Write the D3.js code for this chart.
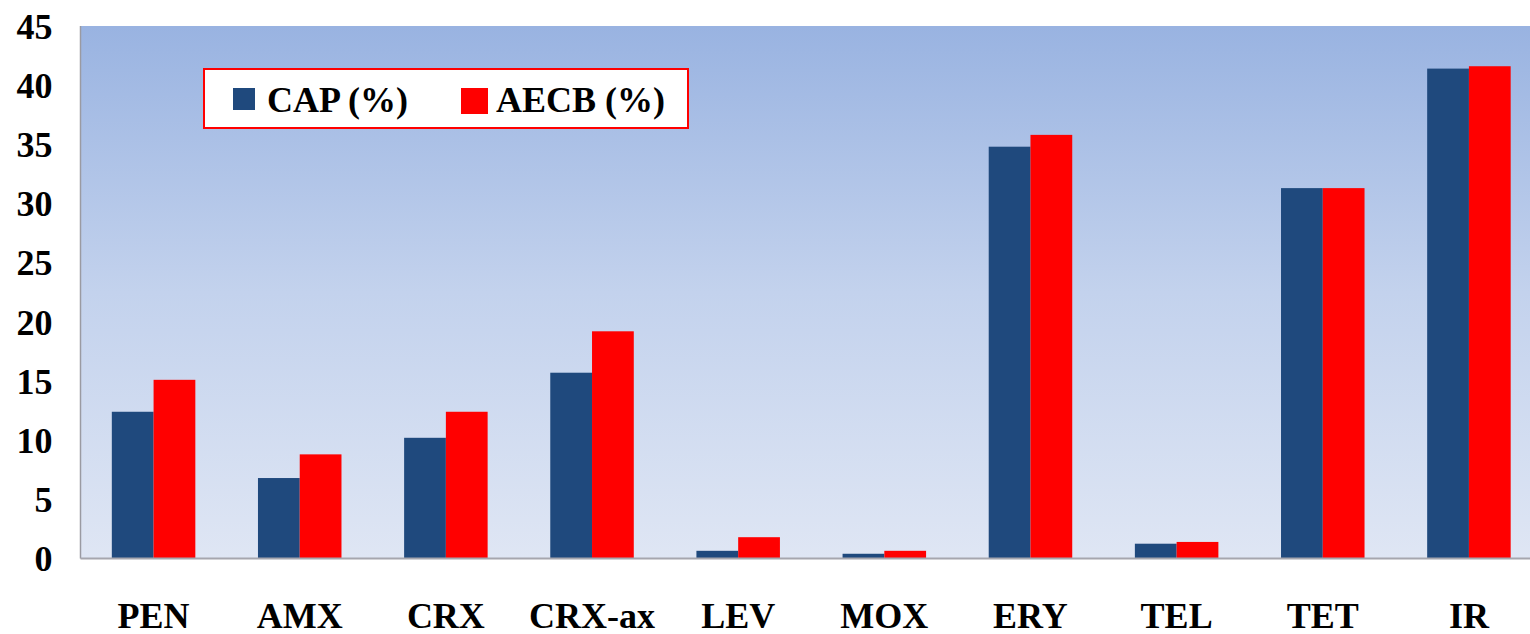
<!DOCTYPE html>
<html>
<head>
<meta charset="utf-8">
<script src="https://cdn.jsdelivr.net/npm/d3@7/dist/d3.min.js"></script>
<style>
  html, body { margin: 0; padding: 0; background: #ffffff; overflow: hidden; }
  svg { display: block; }
  text { font-family: "Liberation Serif", "Times New Roman", serif; font-weight: bold; fill: #000; }
</style>
</head>
<body>
<svg id="chart" width="1530" height="634"></svg>
<script>
// Resistance rates per antibiotic, for CAP and AECB isolates
const categories = ["PEN", "AMX", "CRX", "CRX-ax", "LEV", "MOX", "ERY", "TEL", "TET", "IR"];
const capValues  = [12.4, 6.8, 10.2, 15.7, 0.65, 0.4, 34.8, 1.25, 31.3, 41.4];
const aecbValues = [15.1, 8.8, 12.4, 19.2, 1.8, 0.65, 35.8, 1.4, 31.3, 41.6];
const seriesNames = ["CAP (%)", "AECB (%)"];
const seriesColors = ["#1f497d", "#ff0000"];
const yTicks = [0, 5, 10, 15, 20, 25, 30, 35, 40, 45];

const svg = d3.select("#chart");
const plot = { left: 80.5, right: 1542, top: 26, bottom: 558.5 };
const fontSize = "36px";

// Plot-area background: soft vertical blue gradient
const defs = svg.append("defs");
const grad = defs.append("linearGradient")
  .attr("id", "bg").attr("x1", 0).attr("y1", 0).attr("x2", 0).attr("y2", 1);
grad.append("stop").attr("offset", "0%").attr("stop-color", "#99b3e1");
grad.append("stop").attr("offset", "50%").attr("stop-color", "#c3d2ed");
grad.append("stop").attr("offset", "100%").attr("stop-color", "#dfe6f4");

svg.append("rect")
  .attr("x", plot.left).attr("y", plot.top)
  .attr("width", plot.right - plot.left).attr("height", plot.bottom - plot.top)
  .attr("fill", "url(#bg)");

const x = d3.scaleBand()
  .domain(categories)
  .range([plot.left, plot.right])
  .paddingInner(0.4286)
  .paddingOuter(0.2143);

const xSub = d3.scaleBand()
  .domain(seriesNames)
  .range([0, x.bandwidth()]);

const y = d3.scaleLinear()
  .domain([0, 45])
  .range([plot.bottom, plot.top]);

const rows = categories.map((c, i) => ({ cat: c, values: [capValues[i], aecbValues[i]] }));

// Grouped bars
const groups = svg.append("g").selectAll("g")
  .data(rows).join("g")
  .attr("transform", d => `translate(${x(d.cat)},0)`);

groups.selectAll("rect")
  .data(d => d.values.map((v, j) => ({ name: seriesNames[j], v, j })))
  .join("rect")
  .attr("x", d => xSub(d.name))
  .attr("width", xSub.bandwidth())
  .attr("y", d => y(d.v))
  .attr("height", d => y(0) - y(d.v))
  .attr("fill", d => seriesColors[d.j]);

// Axis lines
svg.append("line")
  .attr("x1", plot.left).attr("x2", plot.left)
  .attr("y1", plot.top).attr("y2", plot.bottom)
  .attr("stroke", "#9a9aa2").attr("stroke-width", 1.5);
svg.append("line")
  .attr("x1", plot.left).attr("x2", 1530)
  .attr("y1", plot.bottom).attr("y2", plot.bottom)
  .attr("stroke", "#a6a6ae").attr("stroke-width", 2);

// Y axis labels
const yAxis = d3.axisLeft(y).tickValues(yTicks).tickSize(0).tickPadding(28);
const yg = svg.append("g").attr("transform", `translate(${plot.left},0)`).call(yAxis);
yg.select(".domain").remove();
yg.selectAll("text")
  .style("font-family", '"Liberation Serif", "Times New Roman", serif')
  .style("font-weight", "bold")
  .style("font-size", fontSize)
  .attr("fill", "#000")
  .attr("dy", "0.34em");

// X axis labels
const xAxis = d3.axisBottom(x).tickSize(0).tickPadding(0);
const xg = svg.append("g").attr("transform", `translate(0,${plot.bottom})`).call(xAxis);
xg.select(".domain").remove();
xg.selectAll("text")
  .style("font-family", '"Liberation Serif", "Times New Roman", serif')
  .style("font-weight", "bold")
  .style("font-size", fontSize)
  .attr("fill", "#000")
  .attr("y", 69)
  .attr("dy", 0);

// Legend
const legend = svg.append("g");
legend.append("rect")
  .attr("x", 204).attr("y", 69).attr("width", 484).attr("height", 59)
  .attr("fill", "#ffffff").attr("stroke", "#ff0000").attr("stroke-width", 2);
const legendItems = [
  { name: seriesNames[0], color: seriesColors[0], sx: 233, sw: 22, sh: 22, tx: 267 },
  { name: seriesNames[1], color: seriesColors[1], sx: 461, sw: 27, sh: 26, tx: 496 }
];
legendItems.forEach(it => {
  legend.append("text")
    .attr("x", it.tx).attr("y", 112)
    .style("font-size", fontSize)
    .text(it.name);
  legend.append("rect")
    .attr("x", it.sx).attr("y", 88).attr("width", it.sw).attr("height", it.sh)
    .attr("fill", it.color);
});
</script>
</body>
</html>
